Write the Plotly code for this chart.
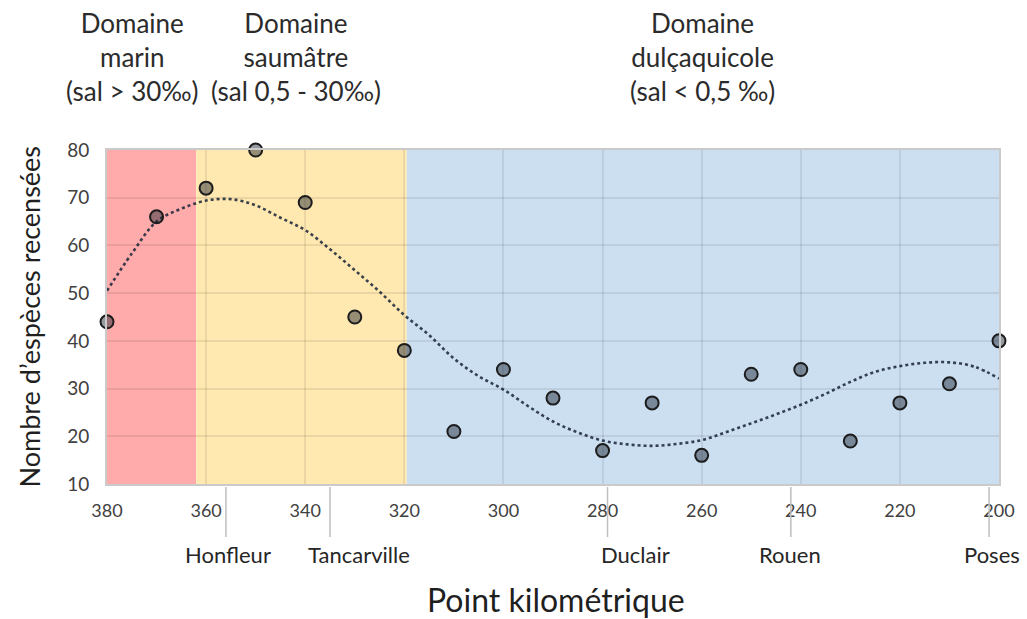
import plotly.graph_objects as go

# Relevés : point kilométrique (PK) et nombre d'espèces recensées
pk = [380, 370, 360, 350, 340, 330, 320, 310, 300, 290, 280, 270, 260, 250, 240, 230, 220, 210, 200]
especes = [44, 66, 72, 80, 69, 45, 38, 21, 34, 28, 17, 27, 16, 33, 34, 19, 27, 31, 40]

# Courbe de tendance (polynomiale) relevée le long de l'estuaire
pk_tendance = [380, 375, 370, 365, 360, 355, 350, 345, 340, 335, 330, 325, 320, 315, 310,
               305, 300, 295, 290, 285, 280, 275, 270, 265, 260, 255, 250, 245, 240,
               235, 230, 225, 220, 215, 210, 205, 200]
tendance = [50.5, 58.3, 65.0, 67.7, 69.4, 69.7, 68.4, 65.8, 63.2, 59.2, 54.8, 50.3, 45.4, 41.2, 36.3,
            32.6, 29.8, 26.3, 23.1, 20.8, 19.1, 18.3, 18.0, 18.4, 19.2, 20.9, 22.7, 24.6, 26.6,
            28.9, 31.4, 33.5, 34.7, 35.4, 35.5, 34.6, 32.1]

# Domaines de salinité (bornes en PK)
domaines_bornes = [380, 362, 319.5, 200]
domaines_couleurs = ["#FFABAB", "#FFE9B1", "#CCDFF1"]
domaines_textes = ["Domaine<br>marin<br>(sal > 30‰)",
                   "Domaine<br>saumâtre<br>(sal 0,5 - 30‰)",
                   "Domaine<br>dulçaquicole<br>(sal < 0,5 ‰)"]
domaines_pos = [0.029, 0.2116, 0.668]

# Villes repères
villes = ["Honfleur", "Tancarville", "Duclair", "Rouen", "Poses"]
villes_pk = [356, 335, 279, 242, 202]
villes_decalage = [2, 29, 28, -1, 3]

x_ticks = [380, 360, 340, 320, 300, 280, 260, 240, 220, 200]
y_ticks = [10, 20, 30, 40, 50, 60, 70, 80]

FONT = "Lato"
GRID = "rgba(0,0,0,0.08)"
fig = go.Figure()

fig.add_trace(go.Scatter(
    x=pk_tendance, y=tendance, mode="lines",
    line=dict(color="rgba(25,35,55,0.85)", width=2.6, dash="3px,3px", shape="spline", smoothing=1),
    hoverinfo="skip", showlegend=False,
))
fig.add_trace(go.Scatter(
    x=pk, y=especes, mode="markers", cliponaxis=False,
    marker=dict(size=13, color="rgba(20,30,45,0.45)", line=dict(color="#1c1c1c", width=2)),
    showlegend=False,
))

shapes = []
for i, c in enumerate(domaines_couleurs):
    shapes.append(dict(type="rect", xref="x", yref="y", x0=domaines_bornes[i], x1=domaines_bornes[i + 1],
                       y0=10, y1=80, fillcolor=c, line=dict(width=0), layer="below"))
for v in villes_pk:
    shapes.append(dict(type="line", xref="x", yref="paper", x0=v, x1=v, y0=-0.009, y1=-0.159,
                       line=dict(color="#BFBFBF", width=1.5)))

annotations = []
for t, p in zip(domaines_textes, domaines_pos):
    annotations.append(dict(text=t, xref="paper", yref="paper", x=p, y=1.278, showarrow=False,
                            xanchor="center", yanchor="middle",
                            font=dict(family=FONT, size=26, color="#2b2b2b")))
for v, pv, dx in zip(villes, villes_pk, villes_decalage):
    annotations.append(dict(text=v, xref="x", yref="paper", x=pv, y=-0.212, xshift=dx, showarrow=False,
                            xanchor="center", yanchor="middle",
                            font=dict(family=FONT, size=22, color="#262626")))
annotations.append(dict(text="Point kilométrique", xref="paper", yref="paper", x=0.503, y=-0.345,
                        showarrow=False, xanchor="center", yanchor="middle",
                        font=dict(family=FONT, size=32, color="#1f1f1f")))
annotations.append(dict(text="Nombre d’espèces recensées", xref="paper", yref="paper", x=-0.088, y=0.50,
                        textangle=-90, showarrow=False, xanchor="center", yanchor="middle",
                        font=dict(family=FONT, size=27, color="#1f1f1f")))

fig.update_layout(
    width=1027, height=619,
    margin=dict(l=107, r=20, t=150, b=135),
    paper_bgcolor="white", plot_bgcolor="white",
    shapes=shapes, annotations=annotations,
    xaxis=dict(range=[380, 200], tickvals=x_ticks, showgrid=True, gridcolor=GRID, gridwidth=2,
               showline=True, linecolor="#CACACA", linewidth=2, mirror=True, zeroline=False,
               ticks="", ticklabelstandoff=9, tickfont=dict(family=FONT, size=18, color="#404040")),
    yaxis=dict(range=[10, 80], tickvals=y_ticks, showgrid=True, gridcolor=GRID, gridwidth=2,
               showline=True, linecolor="#CACACA", linewidth=2, mirror=True, zeroline=False,
               ticks="", ticklabelstandoff=12, tickfont=dict(family=FONT, size=19, color="#404040")),
)

fig.write_html("out.html")
